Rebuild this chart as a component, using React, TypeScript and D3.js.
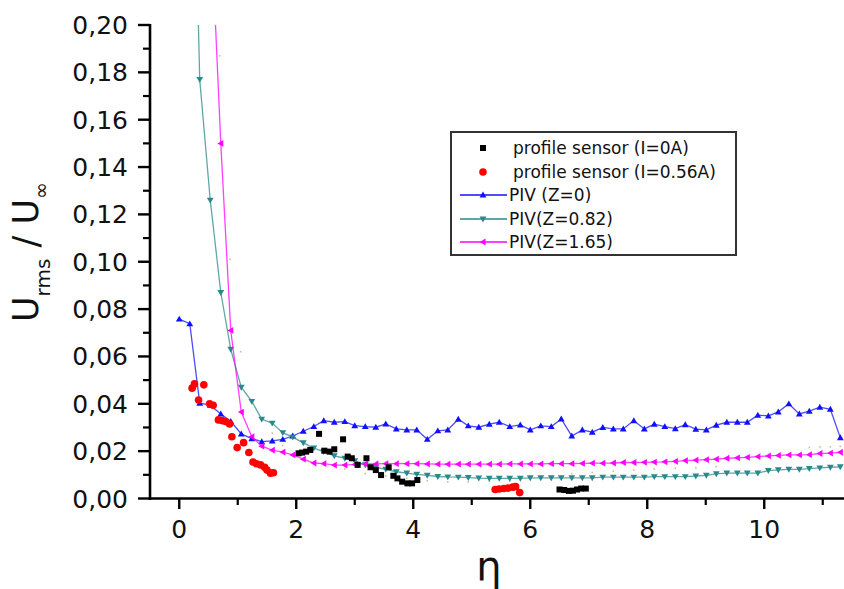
import React from "react";
import * as d3 from "d3";

// PIV grid in eta (shared by the three PIV series)
const PIV_X = [
  0.0, 0.18, 0.35, 0.53, 0.71, 0.88, 1.06, 1.24, 1.41, 1.59, 1.77, 1.94, 2.12, 2.3, 2.47, 2.65,
  2.83, 3.0, 3.18, 3.36, 3.53, 3.71, 3.89, 4.06, 4.24, 4.42, 4.59, 4.77, 4.94, 5.12, 5.3, 5.47,
  5.65, 5.83, 6.0, 6.18, 6.36, 6.53, 6.71, 6.89, 7.06, 7.24, 7.42, 7.59, 7.77, 7.95, 8.12, 8.3,
  8.48, 8.65, 8.83, 9.01, 9.18, 9.36, 9.54, 9.71, 9.89, 10.07, 10.24, 10.42, 10.6, 10.77, 10.95,
  11.13, 11.3,
];

const PIV_Z0 = [
  0.0758, 0.0738, 0.0403, 0.0394, 0.0357, 0.0326, 0.0273, 0.0253, 0.024, 0.0243, 0.025, 0.0264,
  0.0284, 0.0304, 0.0329, 0.0322, 0.0325, 0.0308, 0.0304, 0.0301, 0.0315, 0.0294, 0.029, 0.029,
  0.025, 0.0286, 0.029, 0.0335, 0.0307, 0.0301, 0.0314, 0.0322, 0.0304, 0.0311, 0.029, 0.0307,
  0.0304, 0.0336, 0.0264, 0.029, 0.028, 0.03, 0.0294, 0.0294, 0.0329, 0.0294, 0.0314, 0.0304,
  0.0295, 0.0312, 0.0293, 0.029, 0.031, 0.0322, 0.0322, 0.0322, 0.0352, 0.0349, 0.0366, 0.04,
  0.0357, 0.0369, 0.0386, 0.0377, 0.0257,
];

const PIV_Z082 = [
  null, 0.35, 0.177, 0.126, 0.087, 0.063, 0.047, 0.041, 0.0335, 0.0318, 0.0278, 0.0259, 0.0235,
  0.0213, 0.0198, 0.018, 0.017, 0.0159, 0.0142, 0.0132, 0.0123, 0.0113, 0.0107, 0.0102, 0.0098,
  0.0093, 0.0091, 0.009, 0.0088, 0.0086, 0.0085, 0.0085, 0.0085, 0.0085, 0.0087, 0.0087, 0.0087,
  0.0087, 0.0087, 0.0087, 0.0087, 0.009, 0.009, 0.009, 0.009, 0.009, 0.0092, 0.0092, 0.0092,
  0.0092, 0.0095, 0.0098, 0.0104, 0.0107, 0.0107, 0.0107, 0.0107, 0.0118, 0.0121, 0.0123,
  0.0123, 0.0126, 0.0129, 0.0132, 0.0134,
];

const PIV_Z165 = [
  null, null, null, 0.25, 0.15, 0.071, 0.0365, 0.0261, 0.0221, 0.0204, 0.0196, 0.0184, 0.0166,
  0.015, 0.0147, 0.0141, 0.0141, 0.0144, 0.0146, 0.0146, 0.0147, 0.0147, 0.0147, 0.0147, 0.0146,
  0.0145, 0.0145, 0.0145, 0.0145, 0.0145, 0.0145, 0.0145, 0.0146, 0.0146, 0.0146, 0.0146, 0.0147,
  0.0147, 0.0147, 0.0148, 0.0149, 0.0149, 0.015, 0.0152, 0.0152, 0.0153, 0.0154, 0.0155, 0.0157,
  0.016, 0.0162, 0.0164, 0.0166, 0.017, 0.0172, 0.0174, 0.0177, 0.018, 0.0182, 0.0184, 0.0184,
  0.0185, 0.019, 0.0192, 0.0195,
];

// profile sensor, I = 0A
const PS0_X = [
  2.04, 2.1, 2.17, 2.24, 2.39, 2.48, 2.57, 2.65, 2.8, 2.88, 2.95, 3.05, 3.2, 3.27, 3.36, 3.45,
  3.58, 3.66, 3.73, 3.81, 3.9, 3.98, 4.07, 6.5, 6.58, 6.66, 6.73, 6.8, 6.87, 6.95,
];
const PS0_Y = [
  0.0191, 0.0194, 0.0198, 0.0205, 0.0273, 0.0202, 0.0198, 0.0208, 0.025, 0.0177, 0.017, 0.0142,
  0.017, 0.0132, 0.012, 0.0099, 0.0132, 0.0096, 0.0085, 0.0071, 0.0064, 0.0064, 0.0078, 0.0038,
  0.0036, 0.0032, 0.0033, 0.0038, 0.0042, 0.0042,
];

// profile sensor, I = 0.56A
const PS056_X = [
  0.22, 0.26, 0.42, 0.33, 0.52, 0.58, 0.67, 0.73, 0.79, 0.86, 0.9, 0.99, 1.1, 1.19, 1.26, 1.32,
  1.39, 1.46, 1.5, 1.56, 1.61, 5.4, 5.47, 5.55, 5.62, 5.7, 5.75, 5.82,
];
const PS056_Y = [
  0.0466, 0.0484, 0.048, 0.0416, 0.04, 0.0394, 0.0332, 0.0329, 0.0325, 0.0315, 0.0261, 0.0215,
  0.0236, 0.0194, 0.0154, 0.0147, 0.0142, 0.0132, 0.012, 0.0107, 0.0109, 0.0038, 0.004, 0.0042,
  0.0044, 0.0048, 0.005, 0.0025,
];

// faint unlabelled dots
const FAINT_X = [
  0.69, 0.87, 1.05, 1.59, 1.77, 2.12, 2.47, 2.83, 3.18, 3.53, 3.89, 4.24, 4.59, 4.94, 5.3, 5.65,
  6.0, 6.36, 6.71, 7.06, 7.42, 7.77, 8.12, 8.48, 8.83, 9.18, 10.77, 10.95, 11.13, 11.3,
];
const FAINT_Y = [
  0.187, 0.101, 0.062, 0.0276, 0.0224, 0.019, 0.015, 0.0125, 0.0105, 0.0095, 0.0085, 0.0075,
  0.007, 0.007, 0.0072, 0.0075, 0.008, 0.0095, 0.0105, 0.011, 0.0115, 0.012, 0.0125, 0.0128,
  0.013, 0.0135, 0.0215, 0.0218, 0.0218, 0.022,
];

const Y_TICKS = [0, 0.02, 0.04, 0.06, 0.08, 0.1, 0.12, 0.14, 0.16, 0.18, 0.2];
const X_TICKS = [0, 2, 4, 6, 8, 10];

const LEGEND = [
  "profile sensor (I=0A)",
  "profile sensor (I=0.56A)",
  "PIV (Z=0)",
  "PIV(Z=0.82)",
  "PIV(Z=1.65)",
];

const W = 844;
const H = 589;
const FONT = "'DejaVu Sans', sans-serif";

const BLUE = "#1010ff";
const TEAL = "#2a8a8a";
const MAGENTA = "#ff00ff";

const x = d3.scaleLinear().domain([-0.5, 11.5]).range([150, 852]);
const y = d3.scaleLinear().domain([0, 0.2]).range([498.5, 25]);

const fmt = (v: number) => d3.format(".2f")(v).replace(".", ",");

const tri = (cx: number, cy: number, dir: string, s = 3.4) => {
  if (dir === "up") return `M${cx},${cy - s}L${cx + s},${cy + s * 0.75}L${cx - s},${cy + s * 0.75}Z`;
  if (dir === "down") return `M${cx},${cy + s}L${cx + s},${cy - s * 0.75}L${cx - s},${cy - s * 0.75}Z`;
  return `M${cx - s},${cy}L${cx + s * 0.75},${cy - s}L${cx + s * 0.75},${cy + s}Z`;
};

function PivSeries({ ys, color, dir }: { ys: (number | null)[]; color: string; dir: string }) {
  const pts = PIV_X.map((px, i) => [px, ys[i]] as [number, number | null]);
  const line = d3
    .line<[number, number | null]>()
    .defined((d) => d[1] !== null)
    .x((d) => x(d[0]))
    .y((d) => y(d[1] as number));
  return (
    <g>
      <path d={line(pts) || ""} fill="none" stroke={color} strokeWidth={1.3} strokeOpacity={0.75} />
      {pts
        .filter((d) => d[1] !== null)
        .map((d, i) => (
          <path key={i} d={tri(x(d[0]), y(d[1] as number), dir)} fill={color} />
        ))}
    </g>
  );
}

export default function App() {
  const yMinor = d3.range(0.01, 0.2, 0.02);
  const xMinor = [1, 3, 5, 7, 9, 11];
  const legendY = [148, 172, 195, 219, 242];

  return (
    <svg width={W} height={H} style={{ position: "absolute", left: 0, top: 0, background: "#fff" }}>
      <defs>
        <clipPath id="plot">
          <rect x={150} y={25} width={W - 150} height={474} />
        </clipPath>
      </defs>

      <g clipPath="url(#plot)">
        {FAINT_X.map((fx, i) => (
          <rect key={i} x={x(fx) - 0.8} y={y(FAINT_Y[i]) - 0.8} width={1.6} height={1.6} fill="#c8c090" />
        ))}
        <PivSeries ys={PIV_Z0} color={BLUE} dir="up" />
        <PivSeries ys={PIV_Z082} color={TEAL} dir="down" />
        <PivSeries ys={PIV_Z165} color={MAGENTA} dir="left" />
        {PS056_X.map((px, i) => (
          <circle key={i} cx={x(px)} cy={y(PS056_Y[i])} r={3.8} fill="#ff0000" />
        ))}
        {PS0_X.map((px, i) => (
          <rect key={i} x={x(px) - 3} y={y(PS0_Y[i]) - 3} width={6} height={6} fill="#000" />
        ))}
      </g>

      {/* y axis */}
      <line x1={150} x2={150} y1={24} y2={500} stroke="#000" strokeWidth={2.6} />
      {Y_TICKS.map((t) => (
        <g key={t}>
          <line x1={138} x2={150} y1={y(t)} y2={y(t)} stroke="#000" strokeWidth={2.4} />
          <text x={128} y={y(t) + 9} textAnchor="end" fontFamily={FONT} fontSize={25} fill="#111">
            {fmt(t)}
          </text>
        </g>
      ))}
      {yMinor.map((t) => (
        <line key={t} x1={143} x2={150} y1={y(t)} y2={y(t)} stroke="#000" strokeWidth={2.2} />
      ))}

      {/* x axis */}
      <line x1={149} x2={W} y1={498.5} y2={498.5} stroke="#000" strokeWidth={2.6} />
      {X_TICKS.map((t) => (
        <g key={t}>
          <line x1={x(t)} x2={x(t)} y1={498.5} y2={509} stroke="#000" strokeWidth={2.4} />
          <text x={x(t)} y={538} textAnchor="middle" fontFamily={FONT} fontSize={25} fill="#111">
            {t}
          </text>
        </g>
      ))}
      {xMinor.map((t) => (
        <line key={t} x1={x(t)} x2={x(t)} y1={498.5} y2={505} stroke="#000" strokeWidth={2.2} />
      ))}

      {/* axis titles */}
      <text x={489} y={580} textAnchor="middle" fontFamily={FONT} fontSize={40} fill="#111">
        η
      </text>
      <text transform="translate(38,322) rotate(-90)" fontFamily={FONT} fontSize={35} fill="#111">
        U
        <tspan fontSize={20} dy={12}>rms</tspan>
        <tspan dy={-12}> / U</tspan>
        <tspan fontSize={20} dy={10}>∞</tspan>
      </text>

      {/* legend */}
      <rect x={451} y={132} width={285} height={123} fill="#fff" stroke="#333" strokeWidth={2} />
      <rect x={480} y={145} width={6} height={6} fill="#000" />
      <circle cx={483} cy={172} r={3.8} fill="#ff0000" />
      {[BLUE, TEAL, MAGENTA].map((c, i) => (
        <g key={c}>
          <line x1={460} x2={507} y1={legendY[i + 2]} y2={legendY[i + 2]} stroke={c} strokeWidth={1.6} />
          <path d={tri(483, legendY[i + 2], ["up", "down", "left"][i])} fill={c} />
        </g>
      ))}
      {LEGEND.map((l, i) => (
        <text
          key={l}
          x={i < 2 ? 513 : 509}
          y={legendY[i] + 6}
          fontFamily={FONT}
          fontSize={17}
          fill="#111"
        >
          {l}
        </text>
      ))}
    </svg>
  );
}
